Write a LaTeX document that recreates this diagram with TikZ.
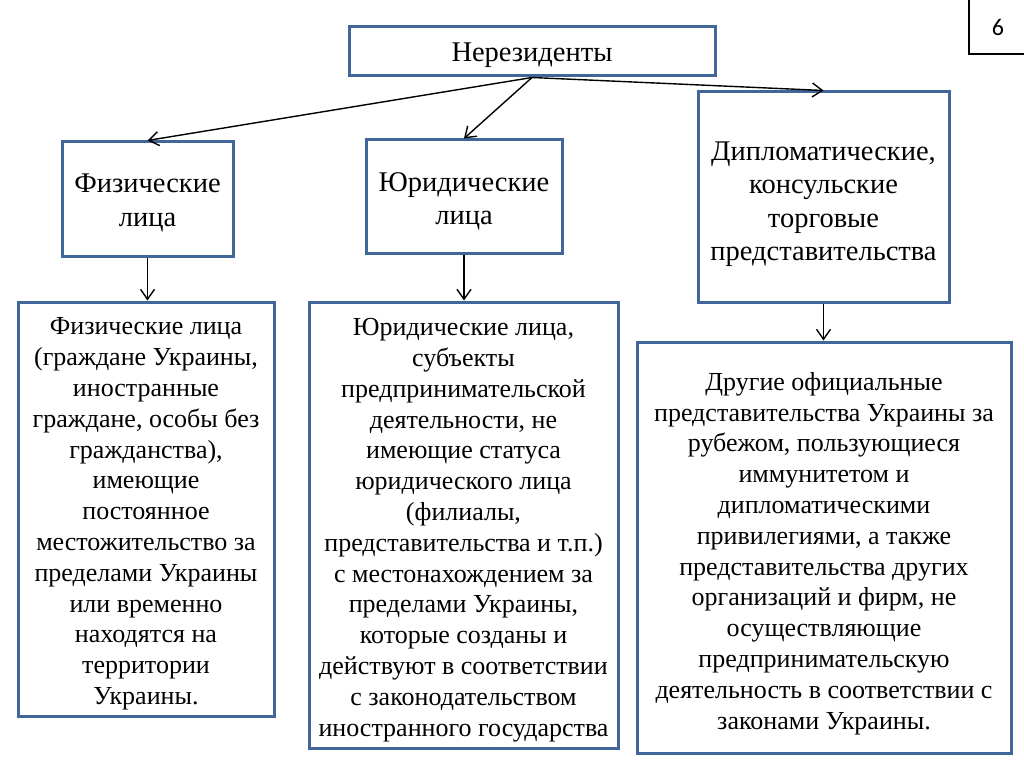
\documentclass[tikz,border=0pt]{standalone}
\usepackage{fontspec}
\setmainfont{Liberation Serif}
\newfontfamily\calibri{Carlito}
\usetikzlibrary{arrows.meta}
\definecolor{boxblue}{HTML}{41679A}
\tikzset{
  frame/.style={draw=boxblue, line width=3pt, fill=white, inner sep=0pt},
  toptext/.style={inner sep=0pt, align=center, font=\fontsize{28.5}{33.5}\selectfont},
  lowtext/.style={inner sep=0pt, align=center, font=\fontsize{26}{30.8}\selectfont},
  conn/.style={draw=black, line width=1.4pt, -{Straight Barb[length=10pt,width=14pt,line width=1.4pt]}},
}
\begin{document}
\begin{tikzpicture}[x=1pt,y=-1pt]
\useasboundingbox[fill=white] (0,0) rectangle (1024,767);
% page number box
\node[draw=black, line width=2pt, minimum width=60pt, minimum height=62pt, inner sep=0pt] (pg) at (999,23) {};
\node[font=\calibri\fontsize{24}{28}\selectfont, inner sep=0pt] (pgT) at (998,27.5) {6};
% top boxes
\node[frame, minimum width=366pt, minimum height=49pt] (ner) at (532,51.5) {};
\node[toptext] (nerT) at ([yshift=-4pt]ner.center) {Нерезиденты};
\node[frame, minimum width=171pt, minimum height=114pt] (fiz) at (147.5,199) {};
\node[toptext] (fizT) at ([yshift=-4pt]fiz.center) {Физические\\лица};
\node[frame, minimum width=196pt, minimum height=113pt] (jur) at (464,196.5) {};
\node[toptext] (jurT) at ([yshift=-5pt]jur.center) {Юридические\\лица};
\node[frame, minimum width=251pt, minimum height=210pt] (dip) at (823.5,197) {};
\node[toptext] (dipT) at ([yshift=-7pt]dip.center) {Дипломатические,\\консульские\\торговые\\представительства};
% lower boxes
\node[frame, minimum width=256pt, minimum height=414pt] (lfiz) at (146,509) {};
\node[lowtext] (lfizT) at ([yshift=-5pt]lfiz.center) {Физические лица\\(граждане Украины,\\иностранные\\граждане, особы без\\гражданства),\\имеющие\\постоянное\\местожительство за\\пределами Украины\\или временно\\находятся на\\территории\\Украины.};
\node[frame, minimum width=309pt, minimum height=446pt] (ljur) at (463.5,525) {};
\node[lowtext] (ljurT) at ([yshift=-5pt]ljur.center) {Юридические лица,\\субъекты\\предпринимательской\\деятельности, не\\имеющие статуса\\юридического лица\\(филиалы,\\представительства и т.п.)\\с местонахождением за\\пределами Украины,\\которые созданы и\\действуют в соответствии\\с законодательством\\иностранного государства};
\node[frame, minimum width=374pt, minimum height=411pt] (ldip) at (824,547.5) {};
\node[lowtext] (ldipT) at ([yshift=-6pt]ldip.center) {Другие официальные\\представительства Украины за\\рубежом, пользующиеся\\иммунитетом и\\дипломатическими\\привилегиями, а также\\представительства других\\организаций и фирм, не\\осуществляющие\\предпринимательскую\\деятельность в соответствии с\\законами Украины.};
% connectors
\draw[conn] (ner.south) -- (fiz.north);
\draw[conn] (ner.south) -- (jur.north);
\draw[conn] (ner.south) -- (dip.north);
\draw[conn] (fiz.south) -- (fiz.south |- lfiz.north);
\draw[conn] (jur.south) -- (jur.south |- ljur.north);
\draw[conn] (dip.south) -- (dip.south |- ldip.north);
\end{tikzpicture}
\end{document}
